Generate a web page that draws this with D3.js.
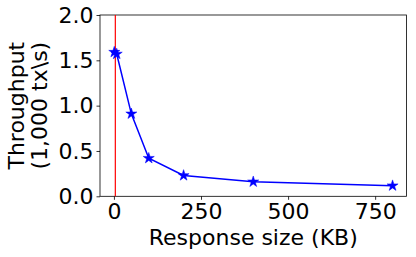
<!DOCTYPE html>
<html><head><meta charset="utf-8">
<script src="https://cdn.jsdelivr.net/npm/d3@7"></script>
<style>body{margin:0;background:#fff;} svg{display:block;} text{font-family:"DejaVu Sans",sans-serif;}</style>
</head><body>
<script>
const sizes = [1, 8, 50, 100, 200, 400, 800];
const throughput = [1.59, 1.57, 0.91, 0.42, 0.23, 0.16, 0.117];
const xTicks = [0, 250, 500, 750];
const yTicks = [0.0, 0.5, 1.0, 1.5, 2.0];
const redLineX = 4;

const W = 416, H = 257;
const m = {left: 100, top: 15, right: 416 - 406.5, bottom: 257 - 196.3};
const svg = d3.select("body").append("svg").attr("width", W).attr("height", H);
const x = d3.scaleLinear().domain([-40, 840]).range([m.left, W - m.right]);
const y = d3.scaleLinear().domain([0, 2]).range([H - m.bottom, m.top]);

const fs = 22;
const xAxis = svg.append("g").attr("transform", `translate(0,${H - m.bottom})`)
  .call(d3.axisBottom(x).tickValues(xTicks).tickFormat(d3.format("d")).tickSize(3.5).tickPadding(3));
const yAxis = svg.append("g").attr("transform", `translate(${m.left},0)`)
  .call(d3.axisLeft(y).tickValues(yTicks).tickFormat(d3.format(".1f")).tickSize(3.5).tickPadding(3));
[xAxis, yAxis].forEach(a => {
  a.select(".domain").remove();
  a.selectAll("text").attr("font-size", fs).attr("font-family", "DejaVu Sans").attr("fill", "#000");
  a.selectAll("line").attr("stroke", "#000").attr("stroke-width", 0.8);
});
xAxis.selectAll("text").attr("dy", null).attr("y", 23.2);

// spines
svg.append("rect").attr("x", x(-40)).attr("y", y(2)).attr("width", x(840) - x(-40)).attr("height", y(0) - y(2))
  .attr("fill", "none").attr("stroke", "#000").attr("stroke-width", 0.8);

svg.append("line").attr("x1", x(redLineX)).attr("x2", x(redLineX)).attr("y1", y(2)).attr("y2", y(0))
  .attr("stroke", "#ff0000").attr("stroke-width", 1.2);

const data = sizes.map((s, i) => ({s, v: throughput[i]}));
svg.append("path").datum(data)
  .attr("d", d3.line().x(d => x(d.s)).y(d => y(d.v)))
  .attr("fill", "none").attr("stroke", "#0000ff").attr("stroke-width", 1.5);
const star = d3.symbol().type(d3.symbolStar).size(38);
svg.selectAll(".pt").data(data).enter().append("path")
  .attr("transform", d => `translate(${x(d.s)},${y(d.v)})`)
  .attr("d", star).attr("fill", "#0000ff").attr("stroke", "#0000ff").attr("stroke-width", 0.5);

svg.append("text").attr("x", (x(-40) + x(840)) / 2).attr("y", 245)
  .attr("text-anchor", "middle").attr("font-size", fs).text("Response size (KB)");
const cy = (y(0) + y(2)) / 2;
svg.append("text").attr("transform", `translate(24,${cy}) rotate(-90)`)
  .attr("text-anchor", "middle").attr("font-size", fs).text("Throughput");
svg.append("text").attr("transform", `translate(47,${cy}) rotate(-90)`)
  .attr("text-anchor", "middle").attr("font-size", fs).text("(1,000 tx\\s)");
</script>
</body></html>
